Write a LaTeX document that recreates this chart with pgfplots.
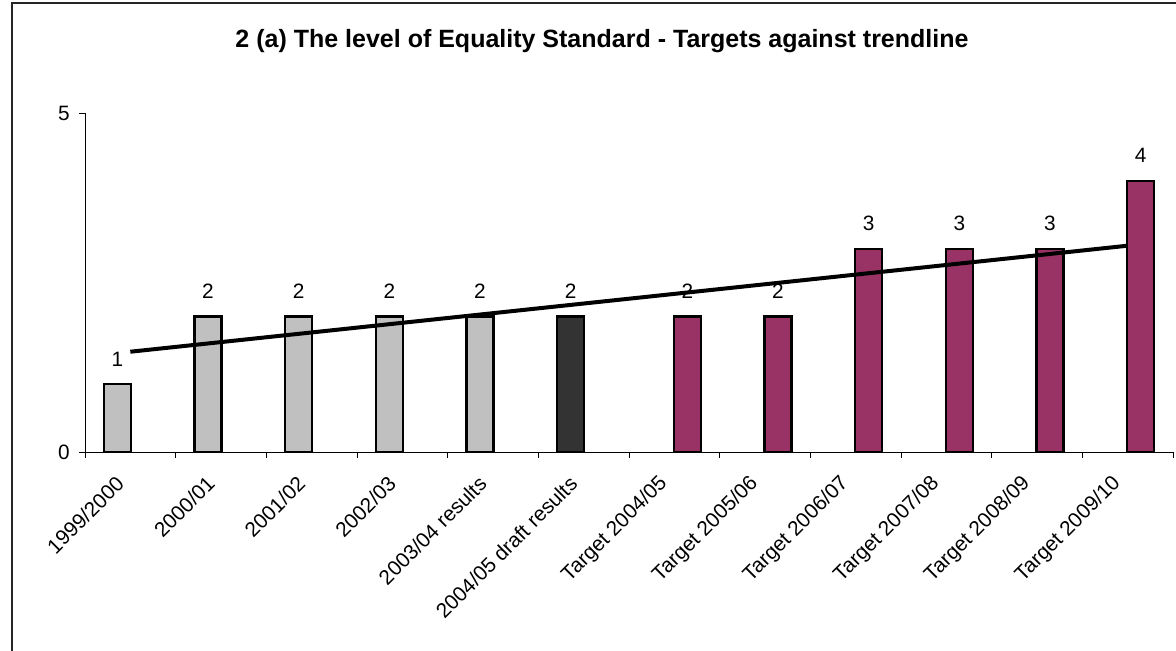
\documentclass[border=0pt]{standalone}
\usepackage{pgfplots}
\pgfplotsset{compat=1.18}
\usepackage{fontspec}
\setmainfont{Liberation Sans}
\definecolor{barGray}{HTML}{C0C0C0}
\definecolor{barDark}{HTML}{333333}
\definecolor{barPlum}{HTML}{993366}
\begin{document}
\begin{tikzpicture}[font=\fontsize{10.4}{12.5}\selectfont]
\useasboundingbox (0pt,0pt) rectangle (588pt,-325.5pt);
\draw[line width=0.7pt, black!85] (6pt,-1.5pt) rectangle (600pt,-340pt);
\node[font=\fontsize{12.5}{15}\selectfont\bfseries] at (301pt,-20.5pt) {2 (a) The level of Equality Standard - Targets against trendline};
\begin{axis}[
  at={(42.5pt,-226pt)}, anchor=south west,
  scale only axis, width=544pt, height=169.5pt,
  xmin=-0.5, xmax=11.5, ymin=0, ymax=5,
  axis lines*=left,
  axis line style={line width=0.5pt, black},
  every axis x line/.append style={black!60},
  ytick={0,5},
  xtick={-0.5,0.5,...,11.5},
  x tick label as interval=true,
  xticklabels={1999/2000,2000/01,2001/02,2002/03,2003/04 results,2004/05 draft results,Target 2004/05,Target 2005/06,Target 2006/07,Target 2007/08,Target 2008/09,Target 2009/10},
  x tick label style={xshift=-5pt, yshift=-11pt, rotate=45, anchor=east, inner sep=0pt},
  y tick label style={inner sep=0pt, xshift=-4.5pt},
  tick align=outside, major tick length=3pt,
  tick style={black, line width=0.5pt},
  /pgf/number format/assume math mode=true,
  ybar, bar width=13.5pt,
  nodes near coords,
  nodes near coords style={anchor=south, inner sep=0pt, yshift=8.5pt, black},
  clip=false,
]
\addplot[fill=barGray, draw=black, line width=1.1pt, bar shift=-6.5pt] coordinates {(0,1) (1,2) (2,2) (3,2) (4,2)};
\addplot[fill=barDark, draw=black, line width=1.1pt, bar shift=-6.5pt] coordinates {(5,2)};
\addplot[fill=barPlum, draw=black, line width=1.1pt, bar shift=6.5pt] coordinates {(6,2) (7,2) (8,3) (9,3) (10,3) (11,4)};
\addplot[sharp plot, black, line width=2pt, nodes near coords={}, mark=none] coordinates {(0,1.479) (11,3.043)};
\end{axis}
\end{tikzpicture}
\end{document}
